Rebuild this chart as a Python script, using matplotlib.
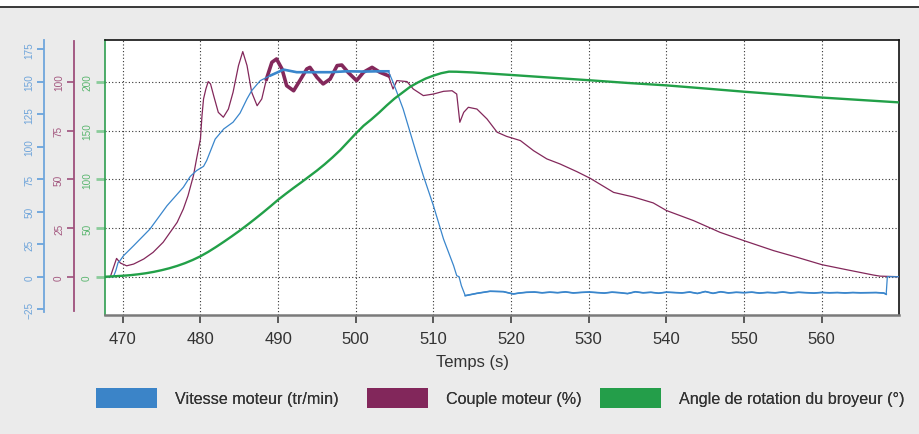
import matplotlib
matplotlib.use("Agg")
import numpy as np
import matplotlib.pyplot as plt
from matplotlib.patches import Patch, Rectangle
from matplotlib.lines import Line2D

plt.rcParams['font.family'] = ['Liberation Sans', 'DejaVu Sans']

# ---------------- data ----------------
x_ticks = [470, 480, 490, 500, 510, 520, 530, 540, 550, 560]
speed_ticks = [-25, 0, 25, 50, 75, 100, 125, 150, 175]
torque_ticks = [0, 25, 50, 75, 100]
angle_ticks = [0, 50, 100, 150, 200]

# Vitesse moteur (tr/min)
speed_t = [467.8, 468.8, 469.1, 469.4, 469.6, 470.1, 471.4, 473.5, 475.7, 477.8,
           478.7, 479.5, 480.4, 480.8, 481.9, 483.0, 484.2, 485.1, 486.0, 486.6,
           487.7, 489.0, 490.7, 492.4, 494.5, 496.7, 498.8, 501.0, 503.1, 504.2,
           504.8, 505.3, 506.1, 507.0, 507.9, 508.7, 510.0, 511.3, 512.6, 513.0,
           513.3, 513.6, 514.1, 515.6, 517.3, 519.0, 520.3,
           521, 522, 523, 524, 525, 526, 527, 528, 529, 530,
           531, 532, 533, 534, 535, 536, 537, 538, 539, 540,
           541, 542, 543, 544, 545, 546, 547, 548, 549, 550,
           551, 552, 553, 554, 555, 556, 557, 558, 559, 560,
           561, 562, 563, 564, 565, 566, 567, 568, 568.3, 568.45, 570.0]
speed_v = [0, 0, 4.6, 11.0, 12.0, 16.2, 23.9, 36.7, 54.7, 68.9,
           77.3, 81.7, 85.0, 89.4, 106.0, 113.8, 119.0, 126.0, 137.0, 143.3,
           151.0, 154.9, 159.5, 157.5, 157.5, 157.5, 158.2, 158.0, 158.2, 158.2,
           149.8, 142.0, 129.2, 111.2, 93.2, 77.8, 54.7, 29.0, 8.5, 0.8,
           0.0, -6.9, -14.6, -12.8, -11.2, -11.5, -13.3,
           -12.6, -12.0, -11.8, -12.4, -11.9, -12.3, -11.7, -12.5, -12.1, -11.8,
           -12.2, -12.6, -11.9, -12.3, -13.0, -11.6, -12.4, -12.0, -12.7, -11.9,
           -12.2, -12.5, -11.8, -12.9, -11.4, -12.8, -11.6, -12.5, -12.0, -12.3,
           -11.9, -12.6, -12.1, -12.4, -11.8, -12.5, -12.0, -12.3, -12.6, -12.1,
           -12.4, -12.2, -12.5, -12.2, -12.4, -12.3, -12.2, -12.6, -13.5, 0.0, 0.0]

# Couple moteur (%)
torque_t = [467.8, 468.4, 469.2, 469.7, 470.5, 471.4, 472.7, 473.9, 475.2, 476.1,
            477.0, 477.8, 478.4, 479.1, 479.5, 480.0, 480.2, 480.4, 480.7, 481.0,
            481.3, 481.7, 482.3, 482.95, 483.6, 484.2, 484.9, 485.45, 486.0, 486.6,
            487.3, 487.9, 488.5, 489.2, 489.8, 490.5, 491.1, 492.0, 492.8, 493.7,
            494.1, 495.0, 495.8, 496.7, 497.6, 498.2, 499.0, 500.1, 501.0, 502.1,
            503.1, 504.2, 504.8, 505.3, 506.6, 507.4, 508.7, 510.0, 511.3, 512.4,
            513.0, 513.4, 513.9, 514.5, 515.6, 516.9, 518.2, 519.4, 521.2, 522.9,
            524.6, 526.3, 528.5, 530.2, 533.2, 535.7, 538.3, 540.0, 543.5, 546.9,
            550.0, 553.8, 556.8, 560.0, 563.2, 566.6, 567.5, 570.0]
torque_v = [0, 0, 9.4, 7.0, 5.6, 6.5, 9.1, 12.5, 17.7, 22.8,
            27.9, 34.8, 41.6, 51.9, 60.5, 70.7, 82.7, 91.3, 96.4, 100.2,
            99.0, 93.0, 84.4, 81.9, 86.1, 94.7, 108.4, 115.6, 108.4, 94.7,
            87.8, 91.3, 101.5, 110.1, 111.8, 106.7, 98.1, 95.5, 100.7, 106.7,
            107.5, 102.4, 99.0, 101.5, 108.4, 108.7, 105.0, 100.7, 105.0, 107.5,
            105.0, 103.2, 96.4, 100.7, 100.2, 96.4, 93.0, 93.8, 95.2, 95.5,
            93.8, 79.3, 84.4, 87.0, 86.1, 81.0, 74.2, 72.1, 69.9, 64.7,
            60.5, 57.9, 53.9, 50.5, 43.3, 41.0, 37.9, 34.0, 28.8, 22.8,
            18.5, 13.4, 10.0, 6.2, 3.6, 0.9, 0.3, 0.0]

# Angle de rotation du broyeur (°)
angle_t = [467.8, 468, 469, 470, 471, 472, 473, 474, 475, 476,
           477, 478, 479, 480, 481, 482, 483, 484, 485, 486,
           487, 488, 489, 490, 491, 492, 493, 494, 495, 496,
           497, 498, 499, 500, 501, 502, 503, 504, 505, 506,
           507, 508, 509, 510, 511, 512, 513, 515, 520, 525,
           530, 535, 540, 545, 550, 555, 560, 565, 570]
angle_v = [0, 0.1, 0.5, 1.0, 1.6, 2.5, 3.6, 5.0, 6.7, 8.7,
           11.1, 13.9, 17.2, 21.0, 25.5, 30.5, 35.8, 41.3, 47.0, 53.0,
           59.2, 65.6, 72.2, 79.0, 85.2, 91.2, 97.0, 103.0, 109.0, 115.5,
           122.5, 130.0, 138.5, 147.0, 155.0, 161.5, 168.5, 176.0, 183.0, 189.0,
           195.0, 199.5, 203.5, 206.5, 209.0, 210.6, 210.5, 209.8, 207.2, 204.5,
           201.8, 199.0, 196.5, 193.3, 190.0, 187.0, 184.0, 181.5, 179.0]

labels = ['Vitesse moteur (tr/min)', 'Couple moteur (%)', 'Angle de rotation du broyeur (°)']

# ---------------- styling ----------------
C_BLUE = '#3a86cc'
C_PURP = '#83285b'
C_GREEN = '#22a048'
BG = '#ebebeb'
W, H = 920, 435

fig = plt.figure(figsize=(W / 100, H / 100), dpi=100, facecolor=BG)
fig.patches.append(Rectangle((0, 1 - 7.5 / H), 1, 7.5 / H, transform=fig.transFigure,
                             facecolor='white', edgecolor='none', zorder=0))
fig.lines.append(Line2D([0, 1], [1 - 8.3 / H, 1 - 8.3 / H], transform=fig.transFigure,
                        color='#2a2a2a', lw=1.3))

L, R, T, B = 105.3, 899.0, 41.0, 315.5
ax = fig.add_axes([L / W, 1 - B / H, (R - L) / W, (B - T) / H])
ax.set_facecolor('white')
ax.set_xlim(467.75, 569.95)
ax.set_ylim(-38.8, 243.1)

ax.set_xticks(x_ticks)
ax.set_yticks(angle_ticks)
ax.grid(True, which='major', linestyle=(0, (1, 2)), color='#333333', lw=0.8)
ax.set_axisbelow(True)

axp = ax.twinx()
axb = ax.twinx()
axg = ax.twinx()
axp.set_ylim(-19.4, 121.55)
axb.set_ylim(-29.1, 182.3)
axg.set_ylim(ax.get_ylim())
axg.axis('off')

YLAB = 7.2


def left_axis(a, pos, spine_col, tick_col, lab_col, ticks, bounds, tlen, tw, pad):
    for s in ['top', 'right', 'bottom']:
        a.spines[s].set_visible(False)
    a.spines['left'].set_visible(True)
    a.spines['left'].set_position(('axes', pos))
    a.spines['left'].set_color(spine_col)
    a.spines['left'].set_linewidth(1.3)
    a.spines['left'].set_bounds(*bounds)
    a.yaxis.set_ticks_position('left')
    a.yaxis.set_label_position('left')
    a.set_yticks(ticks)
    a.tick_params(axis='y', which='both', direction='out', length=tlen, width=tw,
                  color=tick_col, labelcolor=lab_col, labelsize=YLAB,
                  labelrotation=90, pad=pad)
    for lab in a.get_yticklabels():
        lab.set_verticalalignment('center')


left_axis(axb, (44.3 - L) / (R - L), '#6fa6dc', '#5f9ddb', '#6ea4da',
          speed_ticks, (-27, 182.3), 5, 1.2, 2.2)
left_axis(axp, (74.0 - L) / (R - L), '#9e4f7c', '#9e4f7c', '#a3577f',
          torque_ticks, (-17.5, 121.0), 5, 1.2, 2.2)

ax.spines['left'].set_color('#2e9e50')
ax.spines['left'].set_linewidth(1.2)
ax.spines['top'].set_color('#111111')
ax.spines['top'].set_linewidth(1.2)
ax.spines['right'].set_color('#111111')
ax.spines['right'].set_linewidth(1.2)
ax.spines['bottom'].set_color('#7a7a7a')
ax.spines['bottom'].set_linewidth(1.8)
ax.tick_params(axis='y', direction='out', length=6.5, width=2.0, color='#8acb9a',
               labelcolor='#5ab66f', labelsize=YLAB, labelrotation=90, pad=3.0)
for lab in ax.get_yticklabels():
    lab.set_verticalalignment('center')
ax.tick_params(axis='x', direction='out', length=6, width=1.1, color='#333333',
               labelcolor='#333333', labelsize=12, pad=6)

st = np.array(speed_t); sv = np.array(speed_v)
tt = np.array(torque_t); tv = np.array(torque_v)
axp.plot(tt, tv, color=C_PURP, lw=0.9, solid_joinstyle='round')
m = (tt >= 488.3) & (tt <= 504.3)
axp.plot(tt[m], tv[m], color=C_PURP, lw=2.6, solid_joinstyle='round')

axb.plot(st, sv, color=C_BLUE, lw=0.9, solid_joinstyle='round')
mb = (st >= 488.5) & (st <= 504.3)
axb.plot(st[mb], sv[mb], color=C_BLUE, lw=1.9, solid_joinstyle='round')
mf = (st >= 514.0) & (st <= 568.3)
axb.plot(st[mf], sv[mf], color=C_BLUE, lw=1.2, solid_joinstyle='round')

axg.plot(angle_t, angle_v, color=C_GREEN, lw=1.7, solid_joinstyle='round')

fig.text(473 / W, 1 - 363 / H, 'Temps (s)', ha='center', va='center',
         fontsize=12, color='#333333')

leg_colors = ['#3b84c8', '#82275b', '#249e4a']
leg_x = [96, 367, 600]
for lab, col, lx in zip(labels, leg_colors, leg_x):
    lg = fig.legend(handles=[Patch(facecolor=col, edgecolor='none', label=lab)],
                    loc='center left', bbox_to_anchor=(lx / W, 1 - 399 / H),
                    frameon=False, fontsize=11.6, handlelength=3.8, handleheight=1.45,
                    handletextpad=1.1, borderpad=0, borderaxespad=0,
                    labelcolor='#333333')
    fig.add_artist(lg)

fig.savefig('out.png', dpi=100, facecolor=BG)
